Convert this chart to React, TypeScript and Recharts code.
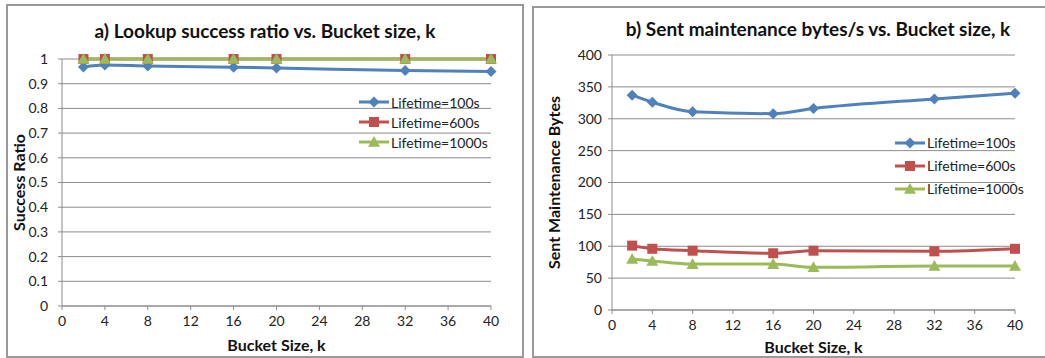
import React from "react";
import { LineChart, Line, XAxis, YAxis, CartesianGrid, Legend } from "recharts";

// bucket sizes (k) used in both panels
const bucketSizes = [2, 4, 8, 16, 20, 32, 40];
const xTicks = [0, 4, 8, 12, 16, 20, 24, 28, 32, 36, 40];

// a) lookup success ratio
const successLife100 = [0.968, 0.976, 0.972, 0.967, 0.964, 0.953, 0.949];
const successLife600 = [1, 1, 1, 1, 1, 1, 1];
const successLife1000 = [1, 1, 1, 1, 1, 1, 1];
const successTicks = [0, 0.1, 0.2, 0.3, 0.4, 0.5, 0.6, 0.7, 0.8, 0.9, 1];

// b) sent maintenance bytes/s
const bytesLife100 = [337, 326, 311, 308, 316, 331, 340];
const bytesLife600 = [101, 96, 93, 89, 93, 92, 96];
const bytesLife1000 = [80, 77, 72, 72, 67, 69, 69];
const bytesTicks = [0, 50, 100, 150, 200, 250, 300, 350, 400];

const seriesNames = ["Lifetime=100s", "Lifetime=600s", "Lifetime=1000s"];

const BLUE = "#4F81BD";
const RED = "#C0504D";
const GREEN = "#9BBB59";
const GRAY = "#8c8c8c";
const FONT = "Lato, 'Open Sans', sans-serif";

const successData = bucketSizes.map((k, i) => ({
  k,
  l100: successLife100[i],
  l600: successLife600[i],
  l1000: successLife1000[i],
}));

const bytesData = bucketSizes.map((k, i) => ({
  k,
  l100: bytesLife100[i],
  l600: bytesLife600[i],
  l1000: bytesLife1000[i],
}));

type Shape = "diamond" | "square" | "triangle";

const marker = (shape: Shape, color: string, cx: number, cy: number, key?: string) => {
  if (shape === "diamond") {
    const r = 5.5;
    return (
      <polygon
        key={key}
        points={`${cx},${cy - r} ${cx + r},${cy} ${cx},${cy + r} ${cx - r},${cy}`}
        fill={color}
      />
    );
  }
  if (shape === "square") {
    return <rect key={key} x={cx - 5} y={cy - 5} width={10} height={10} fill={color} />;
  }
  const s = 6;
  return (
    <polygon
      key={key}
      points={`${cx},${cy - s} ${cx + s},${cy + s * 0.8} ${cx - s},${cy + s * 0.8}`}
      fill={color}
    />
  );
};

const dotFn = (shape: Shape, color: string) => (props: any) =>
  marker(shape, color, props.cx, props.cy, `${shape}-${props.index}`);

const legendItems: { name: string; color: string; shape: Shape }[] = [
  { name: seriesNames[0], color: BLUE, shape: "diamond" },
  { name: seriesNames[1], color: RED, shape: "square" },
  { name: seriesNames[2], color: GREEN, shape: "triangle" },
];

const LegendBox = ({ rowHeight }: { rowHeight: number }) => (
  <div>
    {legendItems.map((it) => (
      <div
        key={it.name}
        style={{ display: "flex", alignItems: "center", height: rowHeight }}
      >
        <svg width={30} height={14}>
          <line x1={0} y1={7} x2={30} y2={7} stroke={it.color} strokeWidth={3} />
          {marker(it.shape, it.color, 15, 7)}
        </svg>
        <span style={{ fontSize: 14, color: "#222", marginLeft: 2 }}>{it.name}</span>
      </div>
    ))}
  </div>
);

const tickStyle = { fill: "#222", fontSize: 14, fontFamily: FONT };
const axisTitle = { fill: "#111", fontSize: 16, fontWeight: 700, fontFamily: FONT };

export default function App() {
  return (
    <div
      style={{
        position: "absolute",
        left: 0,
        top: 0,
        width: 1045,
        height: 358,
        background: "#fff",
        fontFamily: FONT,
        overflow: "hidden",
      }}
    >
      {/* frames */}
      <div
        style={{
          position: "absolute",
          left: 6,
          top: 4,
          width: 518,
          height: 354,
          border: "2px solid #999",
          boxSizing: "border-box",
        }}
      />
      <div
        style={{
          position: "absolute",
          left: 532,
          top: 6,
          width: 540,
          height: 352,
          border: "2px solid #999",
          boxSizing: "border-box",
        }}
      />

      {/* titles */}
      <div
        style={{
          position: "absolute",
          left: 7,
          width: 516,
          top: 20,
          textAlign: "center",
          fontSize: 19,
          fontWeight: 700,
          color: "#111",
          lineHeight: "22px",
        }}
      >
        a) Lookup success ratio vs. Bucket size, k
      </div>
      <div
        style={{
          position: "absolute",
          left: 618,
          width: 400,
          top: 18,
          textAlign: "center",
          fontSize: 19,
          fontWeight: 700,
          color: "#111",
          lineHeight: "22px",
        }}
      >
        b) Sent maintenance bytes/s vs. Bucket size, k
      </div>

      {/* a) success ratio */}
      <div style={{ position: "absolute", left: 7, top: 5 }}>
        <LineChart
          width={516}
          height={352}
          data={successData}
          margin={{ top: 54, right: 32, left: 10, bottom: 0 }}
        >
          <CartesianGrid vertical={false} stroke={GRAY} />
          <XAxis
            dataKey="k"
            type="number"
            domain={[0, 40]}
            ticks={xTicks}
            interval={0}
            height={51}
            stroke={GRAY}
            tickSize={4}
            tickMargin={6}
            tick={tickStyle}
            label={{ value: "Bucket Size, k", position: "insideBottom", offset: 6, style: axisTitle }}
          />
          <YAxis
            type="number"
            domain={[0, 1]}
            ticks={successTicks}
            interval={0}
            width={45}
            stroke={GRAY}
            tickSize={4}
            tickMargin={10}
            tick={tickStyle}
            label={{
              value: "Success Ratio",
              angle: -90,
              position: "insideLeft",
              offset: 2,
              style: { ...axisTitle, textAnchor: "middle" },
            }}
          />
          <Legend
            layout="vertical"
            verticalAlign="middle"
            align="center"
            wrapperStyle={{ left: 352, top: 87, width: 150 }}
            content={() => <LegendBox rowHeight={20} />}
          />
          <Line
            type="monotone"
            dataKey="l100"
            name={seriesNames[0]}
            stroke={BLUE}
            strokeWidth={3}
            dot={dotFn("diamond", BLUE)}
            isAnimationActive={false}
          />
          <Line
            type="monotone"
            dataKey="l600"
            name={seriesNames[1]}
            stroke={RED}
            strokeWidth={3}
            dot={dotFn("square", RED)}
            isAnimationActive={false}
          />
          <Line
            type="monotone"
            dataKey="l1000"
            name={seriesNames[2]}
            stroke={GREEN}
            strokeWidth={3}
            dot={dotFn("triangle", GREEN)}
            isAnimationActive={false}
          />
        </LineChart>
      </div>

      {/* b) maintenance bytes */}
      <div style={{ position: "absolute", left: 533, top: 7 }}>
        <LineChart
          width={512}
          height={350}
          data={bytesData}
          margin={{ top: 48, right: 30, left: 10, bottom: 0 }}
        >
          <CartesianGrid vertical={false} stroke={GRAY} />
          <XAxis
            dataKey="k"
            type="number"
            domain={[0, 40]}
            ticks={xTicks}
            interval={0}
            height={47}
            stroke={GRAY}
            tickSize={4}
            tickMargin={6}
            tick={tickStyle}
            label={{ value: "Bucket Size, k", position: "insideBottom", offset: 4, style: axisTitle }}
          />
          <YAxis
            type="number"
            domain={[0, 400]}
            ticks={bytesTicks}
            interval={0}
            width={69}
            stroke={GRAY}
            tickSize={4}
            tickMargin={6}
            tick={tickStyle}
            label={{
              value: "Sent Maintenance Bytes",
              angle: -90,
              position: "insideLeft",
              offset: 11,
              style: { ...axisTitle, textAnchor: "middle" },
            }}
          />
          <Legend
            layout="vertical"
            verticalAlign="middle"
            align="center"
            wrapperStyle={{ left: 362, top: 124, width: 150 }}
            content={() => <LegendBox rowHeight={23} />}
          />
          <Line
            type="monotone"
            dataKey="l100"
            name={seriesNames[0]}
            stroke={BLUE}
            strokeWidth={3}
            dot={dotFn("diamond", BLUE)}
            isAnimationActive={false}
          />
          <Line
            type="monotone"
            dataKey="l600"
            name={seriesNames[1]}
            stroke={RED}
            strokeWidth={3}
            dot={dotFn("square", RED)}
            isAnimationActive={false}
          />
          <Line
            type="monotone"
            dataKey="l1000"
            name={seriesNames[2]}
            stroke={GREEN}
            strokeWidth={3}
            dot={dotFn("triangle", GREEN)}
            isAnimationActive={false}
          />
        </LineChart>
      </div>
    </div>
  );
}
